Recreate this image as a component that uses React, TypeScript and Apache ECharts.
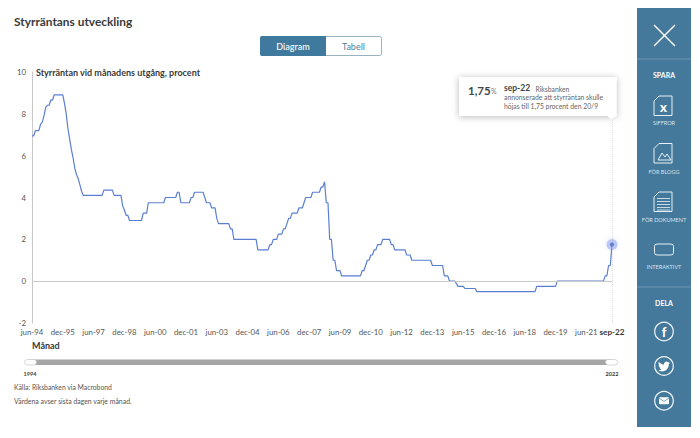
import React, { useEffect, useRef } from "react";
import * as echarts from "echarts";

const monthNames = ["jan", "feb", "mar", "apr", "maj", "jun", "jul", "aug", "sep", "okt", "nov", "dec"];

const rates1994 = [6.95, 6.95, 7.2, 7.2, 7.2, 7.5, 7.6];
const rates1995 = [7.9, 8.3, 8.41, 8.41, 8.66, 8.66, 8.91, 8.91, 8.91, 8.91, 8.91, 8.91];
const rates1996 = [8.5, 8.0, 7.3, 6.8, 6.3, 5.9, 5.4, 5.1, 4.9, 4.6, 4.3, 4.1];
const rates1997 = [4.1, 4.1, 4.1, 4.1, 4.1, 4.1, 4.1, 4.1, 4.1, 4.1, 4.1, 4.35];
const rates1998 = [4.35, 4.35, 4.35, 4.35, 4.35, 4.1, 4.1, 4.1, 4.1, 4.1, 3.6, 3.4];
const rates1999 = [3.15, 3.15, 2.9, 2.9, 2.9, 2.9, 2.9, 2.9, 2.9, 2.9, 3.25, 3.25];
const rates2000 = [3.25, 3.75, 3.75, 3.75, 3.75, 3.75, 3.75, 3.75, 3.75, 3.75, 3.75, 4.0];
const rates2001 = [4.0, 4.0, 4.0, 4.0, 4.0, 4.0, 4.25, 4.25, 3.75, 3.75, 3.75, 3.75];
const rates2002 = [3.75, 3.75, 4.0, 4.0, 4.25, 4.25, 4.25, 4.25, 4.25, 4.25, 4.0, 3.75];
const rates2003 = [3.75, 3.75, 3.5, 3.5, 3.5, 3.0, 2.75, 2.75, 2.75, 2.75, 2.75, 2.75];
const rates2004 = [2.75, 2.5, 2.5, 2.0, 2.0, 2.0, 2.0, 2.0, 2.0, 2.0, 2.0, 2.0];
const rates2005 = [2.0, 2.0, 2.0, 2.0, 2.0, 1.5, 1.5, 1.5, 1.5, 1.5, 1.5, 1.5];
const rates2006 = [1.75, 1.75, 2.0, 2.0, 2.0, 2.25, 2.25, 2.25, 2.5, 2.5, 2.75, 3.0];
const rates2007 = [3.0, 3.25, 3.25, 3.25, 3.25, 3.5, 3.5, 3.5, 3.75, 4.0, 4.0, 4.0];
const rates2008 = [4.0, 4.25, 4.25, 4.25, 4.25, 4.25, 4.5, 4.5, 4.75, 3.75, 3.75, 2.0];
const rates2009 = [2.0, 1.0, 1.0, 0.5, 0.5, 0.5, 0.25, 0.25, 0.25, 0.25, 0.25, 0.25];
const rates2010 = [0.25, 0.25, 0.25, 0.25, 0.25, 0.25, 0.5, 0.5, 0.75, 1.0, 1.0, 1.25];
const rates2011 = [1.25, 1.5, 1.5, 1.75, 1.75, 1.75, 2.0, 2.0, 2.0, 2.0, 2.0, 1.75];
const rates2012 = [1.75, 1.5, 1.5, 1.5, 1.5, 1.5, 1.5, 1.5, 1.25, 1.25, 1.25, 1.0];
const rates2013 = [1.0, 1.0, 1.0, 1.0, 1.0, 1.0, 1.0, 1.0, 1.0, 1.0, 1.0, 0.75];
const rates2014 = [0.75, 0.75, 0.75, 0.75, 0.75, 0.75, 0.25, 0.25, 0.25, 0, 0, 0];
const rates2015 = [0, -0.1, -0.25, -0.25, -0.25, -0.25, -0.35, -0.35, -0.35, -0.35, -0.35, -0.35];
const rates2016 = [-0.35, -0.5, -0.5, -0.5, -0.5, -0.5, -0.5, -0.5, -0.5, -0.5, -0.5, -0.5];
const rates2017 = [-0.5, -0.5, -0.5, -0.5, -0.5, -0.5, -0.5, -0.5, -0.5, -0.5, -0.5, -0.5];
const rates2018 = [-0.5, -0.5, -0.5, -0.5, -0.5, -0.5, -0.5, -0.5, -0.5, -0.5, -0.5, -0.5];
const rates2019 = [-0.25, -0.25, -0.25, -0.25, -0.25, -0.25, -0.25, -0.25, -0.25, -0.25, -0.25, -0.25];
const rates2020 = [0, 0, 0, 0, 0, 0, 0, 0, 0, 0, 0, 0];
const rates2021 = [0, 0, 0, 0, 0, 0, 0, 0, 0, 0, 0, 0];
const rates2022 = [0, 0, 0, 0, 0.25, 0.25, 0.75, 0.75, 1.75];

const rates = [
  ...rates1994, ...rates1995, ...rates1996, ...rates1997, ...rates1998, ...rates1999, ...rates2000,
  ...rates2001, ...rates2002, ...rates2003, ...rates2004, ...rates2005, ...rates2006, ...rates2007,
  ...rates2008, ...rates2009, ...rates2010, ...rates2011, ...rates2012, ...rates2013, ...rates2014,
  ...rates2015, ...rates2016, ...rates2017, ...rates2018, ...rates2019, ...rates2020, ...rates2021,
  ...rates2022,
];

const months: string[] = rates.map((_, i) => {
  const t = 1994 * 12 + 5 + i;
  const yy = Math.floor(t / 12) % 100;
  return `${monthNames[t % 12]}-${String(yy).padStart(2, "0")}`;
});
const lastIndex = months.length - 1;
const lastMonth = months[lastIndex];
const labelStep = 18;

const FONT = "Lato, 'Noto Sans', sans-serif";
const INK = "#3a3a3a";
const TICK = "#555555";
const PANEL = "#44799c";
const LINE = "#5b7fd0";
const GREY = "#c9c9c9";

echarts.graphic.registerShape(
  "twitterBird",
  echarts.graphic.extendPath(
    "M23.95 4.57a10 10 0 0 1-2.82.77 4.96 4.96 0 0 0 2.16-2.72 9.9 9.9 0 0 1-3.12 1.19 4.92 4.92 0 0 0-8.38 4.48A13.98 13.98 0 0 1 1.64 3.16a4.82 4.82 0 0 0-.67 2.48 4.92 4.92 0 0 0 2.19 4.1 4.9 4.9 0 0 1-2.23-.62v.06a4.92 4.92 0 0 0 3.95 4.83 5 5 0 0 1-2.21.08 4.94 4.94 0 0 0 4.6 3.42A9.87 9.87 0 0 1 0 19.54a14 14 0 0 0 7.56 2.21c9.05 0 14-7.5 14-13.98 0-.21 0-.42-.02-.63a9.94 9.94 0 0 0 2.41-2.57z",
    {}
  )
);

const sideText = (text: string, cy: number, bold = false, size = 5.5) => ({
  type: "text",
  style: {
    x: 664,
    y: cy,
    text,
    fill: bold ? "#ffffff" : "#d6e4ee",
    font: `${bold ? 700 : 400} ${size}px ${FONT}`,
    align: "center",
    verticalAlign: "middle",
  },
});

const white = { stroke: "#e8f1f6", fill: "none", lineWidth: 1 };
const ring = { stroke: "#f2f7fa", fill: "none", lineWidth: 1.2 };

const docOutline = (x: number, y: number) => ({
  type: "polygon",
  shape: { points: [[x + 5, y], [x + 18, y], [x + 18, y + 19.5], [x, y + 19.5], [x, y + 5]] },
  style: white,
});

const sidebar: any[] = [
  { type: "rect", shape: { x: 637, y: 8, width: 54, height: 419 }, style: { fill: PANEL } },
  { type: "line", shape: { x1: 637, y1: 59, x2: 691, y2: 59 }, style: { stroke: "#7ea3bc", lineWidth: 0.7 } },
  { type: "line", shape: { x1: 637, y1: 287, x2: 691, y2: 287 }, style: { stroke: "#7ea3bc", lineWidth: 0.7 } },
  { type: "line", shape: { x1: 654, y1: 25, x2: 675, y2: 46 }, style: { stroke: "#ffffff", lineWidth: 1.4 } },
  { type: "line", shape: { x1: 675, y1: 25, x2: 654, y2: 46 }, style: { stroke: "#ffffff", lineWidth: 1.4 } },
  sideText("SPARA", 74.5, true, 7),
  docOutline(654, 96),
  { type: "text", style: { x: 663.5, y: 106.5, text: "x", fill: "#ffffff", font: `900 13px ${FONT}`, align: "center", verticalAlign: "middle" } },
  sideText("SIFFROR", 122.5),
  docOutline(654, 143.5),
  { type: "polyline", shape: { points: [[658, 160], [662, 153], [665, 157], [667, 154], [671, 160], [658, 160]] }, style: white },
  sideText("FÖR BLOGG", 171.5),
  docOutline(654, 192),
  ...[198.5, 201.5, 204.5, 207.5, 210].map((y) => ({
    type: "line",
    shape: { x1: 657, y1: y, x2: 670, y2: y },
    style: { stroke: "#e8f1f6", lineWidth: 0.8 },
  })),
  sideText("FÖR DOKUMENT", 219.5),
  { type: "rect", shape: { x: 654.5, y: 244, width: 19, height: 11, r: 2.5 }, style: white },
  sideText("INTERAKTIVT", 267),
  sideText("DELA", 302.5, true, 7),
  { type: "circle", shape: { cx: 664, cy: 331.5, r: 9.3 }, style: ring },
  { type: "text", style: { x: 664, y: 332, text: "f", fill: "#ffffff", font: `900 13px ${FONT}`, align: "center", verticalAlign: "middle" } },
  { type: "circle", shape: { cx: 664, cy: 366, r: 9.3 }, style: ring },
  { type: "twitterBird", x: 658, y: 360.5, scaleX: 0.5, scaleY: 0.5, style: { fill: "#ffffff" } },
  { type: "circle", shape: { cx: 664, cy: 400.8, r: 9.3 }, style: ring },
  { type: "rect", shape: { x: 659, y: 397.3, width: 10, height: 7, r: 1 }, style: { fill: "#ffffff" } },
  { type: "polyline", shape: { points: [[659, 398], [664, 401.5], [669, 398]] }, style: { stroke: PANEL, fill: "none", lineWidth: 0.7 } },
];

const toggle: any[] = [
  { type: "rect", shape: { x: 260.5, y: 36.5, width: 121, height: 19, r: 2 }, style: { fill: "#ffffff", stroke: "#7f9eb3", lineWidth: 0.8 } },
  { type: "rect", shape: { x: 260, y: 36, width: 66, height: 20, r: [2, 0, 0, 2] }, style: { fill: "#3f7a9e" } },
  { type: "text", style: { x: 293, y: 46, text: "Diagram", fill: "#ffffff", font: `500 9px ${FONT}`, align: "center", verticalAlign: "middle" } },
  { type: "text", style: { x: 353.5, y: 46, text: "Tabell", fill: "#4d7f9f", font: `400 9px ${FONT}`, align: "center", verticalAlign: "middle" } },
];

const callout: any[] = [
  {
    type: "rect",
    shape: { x: 459, y: 77, width: 157.5, height: 39 },
    style: { fill: "#ffffff", shadowBlur: 7, shadowColor: "rgba(0,0,0,0.28)", shadowOffsetX: 0, shadowOffsetY: 1 },
  },
  { type: "polygon", shape: { points: [[607, 116], [616, 116], [612, 120]] }, style: { fill: "#ffffff" } },
  { type: "text", style: { x: 468, y: 90, text: "1,75", fill: "#444444", font: `700 11.5px ${FONT}`, verticalAlign: "middle" } },
  { type: "text", style: { x: 491, y: 91, text: "%", fill: "#777777", font: `400 7px ${FONT}`, verticalAlign: "middle" } },
  { type: "text", style: { x: 504, y: 88, text: "sep-22", fill: "#444444", font: `700 8.5px ${FONT}`, verticalAlign: "middle" } },
  { type: "text", style: { x: 535.5, y: 88.5, text: "Riksbanken", fill: "#666666", font: `400 6.8px ${FONT}`, verticalAlign: "middle" } },
  { type: "text", style: { x: 504, y: 97, text: "annonserade att styrräntan skulle", fill: "#666666", font: `400 6.8px ${FONT}`, verticalAlign: "middle" } },
  { type: "text", style: { x: 504, y: 105.5, text: "höjas till 1,75 procent den 20/9", fill: "#666666", font: `400 6.8px ${FONT}`, verticalAlign: "middle" } },
];

const pageText: any[] = [
  { type: "text", style: { x: 36, y: 72.5, text: "Styrräntan vid månadens utgång, procent", fill: INK, font: `700 9px ${FONT}`, verticalAlign: "middle" } },
  { type: "text", style: { x: 32, y: 345.5, text: "Månad", fill: INK, font: `700 9px ${FONT}`, verticalAlign: "middle" } },
  { type: "text", style: { x: 30, y: 374, text: "1994", fill: INK, font: `700 5.5px ${FONT}`, align: "center", verticalAlign: "middle" } },
  { type: "text", style: { x: 612, y: 374, text: "2022", fill: INK, font: `700 5.5px ${FONT}`, align: "center", verticalAlign: "middle" } },
  { type: "text", style: { x: 14, y: 387, text: "Källa: Riksbanken via Macrobond", fill: "#555555", font: `400 6.8px ${FONT}`, verticalAlign: "middle" } },
  { type: "text", style: { x: 14, y: 400.5, text: "Värdena avser sista dagen varje månad.", fill: "#555555", font: `400 6.9px ${FONT}`, verticalAlign: "middle" } },
];

const rangeSlider: any[] = [
  { type: "rect", shape: { x: 30, y: 359.5, width: 582, height: 5.5 }, style: { fill: "#a6a6a6" } },
  { type: "rect", shape: { x: 24.5, y: 359.5, width: 12, height: 5.5, r: 2.75 }, style: { fill: "#ffffff", stroke: "#bdbdbd", lineWidth: 0.6 } },
  { type: "rect", shape: { x: 605.5, y: 359.5, width: 12, height: 5.5, r: 2.75 }, style: { fill: "#ffffff", stroke: "#bdbdbd", lineWidth: 0.6 } },
];

export default function App() {
  const ref = useRef<HTMLDivElement>(null);

  useEffect(() => {
    const chart = echarts.init(ref.current!, undefined, { renderer: "svg" });
    chart.setOption({
      animation: false,
      backgroundColor: "#ffffff",
      textStyle: { fontFamily: FONT },
      title: {
        text: "Styrräntans utveckling",
        left: 14,
        top: 15,
        padding: 0,
        textStyle: { fontFamily: FONT, fontSize: 11.9, fontWeight: 700, color: INK },
      },
      grid: { left: 32, right: 88, top: 72, bottom: 115, containLabel: false },
      xAxis: {
        type: "category",
        data: months,
        boundaryGap: false,
        axisLine: { show: false },
        axisTick: { show: false },
        splitLine: { show: false },
        axisLabel: {
          interval: (i: number) => i % labelStep === 0 || i === lastIndex,
          margin: 5,
          color: TICK,
          fontSize: 7.8,
          fontFamily: FONT,
          showMaxLabel: true,
          hideOverlap: false,
          formatter: (v: string) => (v === lastMonth ? `{b|${v}}` : v),
          rich: { b: { fontWeight: 700, fontSize: 8.2, color: INK, fontFamily: FONT } },
        },
      },
      yAxis: {
        type: "value",
        min: -2,
        max: 10,
        interval: 2,
        axisLine: { show: true, lineStyle: { color: GREY, width: 1 } },
        axisTick: { show: false },
        splitLine: { show: false },
        axisLabel: { color: TICK, fontSize: 7.8, fontFamily: FONT, margin: 6 },
      },
      series: [
        {
          type: "line",
          data: rates,
          showSymbol: false,
          symbol: "none",
          lineStyle: { color: LINE, width: 1.2 },
          markLine: {
            silent: true,
            symbol: "none",
            label: { show: false },
            data: [
              [
                { coord: [months[0], 0], lineStyle: { color: GREY, width: 1, type: "solid" } },
                { coord: [lastMonth, 0] },
              ],
              [
                { coord: [lastMonth, 7.8], lineStyle: { color: "#dddddd", width: 1, type: "dotted" } },
                { coord: [lastMonth, -2] },
              ],
            ],
          },
          markPoint: {
            silent: true,
            symbol: "circle",
            label: { show: false },
            data: [
              {
                coord: [lastMonth, rates[lastIndex]],
                symbolSize: 11,
                itemStyle: { color: "rgba(130,150,235,0.45)", shadowBlur: 4, shadowColor: "rgba(130,150,235,0.5)" },
              },
              {
                coord: [lastMonth, rates[lastIndex]],
                symbolSize: 4,
                itemStyle: { color: LINE },
              },
            ],
          },
        },
      ],
      graphic: { elements: [...toggle, ...pageText, ...rangeSlider, ...callout, ...sidebar] },
    });
    return () => chart.dispose();
  }, []);

  return <div ref={ref} style={{ position: "fixed", left: 0, top: 0, width: 700, height: 438 }} />;
}
